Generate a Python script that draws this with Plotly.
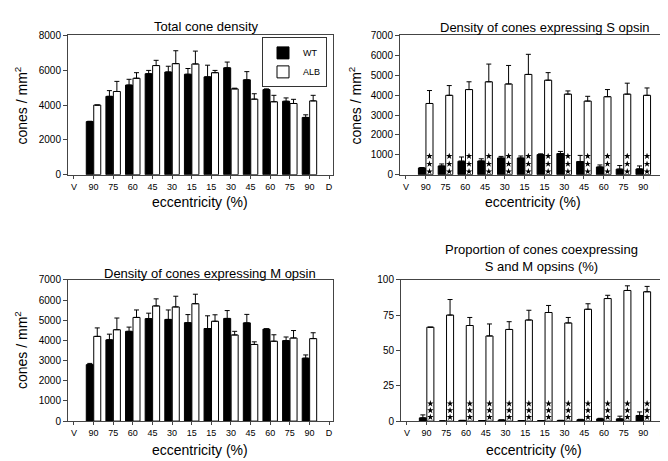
import plotly.graph_objects as go

# ---------------- data ----------------
tick_labels = ["V", "90", "75", "60", "45", "30", "15", "15", "30", "45", "60", "75", "90", "D"]
bar_pos = list(range(1, 13))  # positions of the 12 eccentricity bins (V and D are empty)

total_wt = [3050, 4500, 5150, 5800, 5900, 5770, 5620, 6140, 5450, 4890, 4220, 3290]
total_wt_err = [20, 330, 330, 190, 330, 330, 670, 330, 470, 40, 190, 150]
total_alb = [4000, 4780, 5540, 6270, 6380, 6360, 5860, 4930, 4340, 4190, 4090, 4240]
total_alb_err = [0, 580, 320, 300, 740, 740, 130, 40, 310, 370, 240, 320]

s_wt = [340, 440, 680, 690, 840, 840, 1010, 1060, 660, 390, 280, 290]
s_wt_err = [20, 100, 210, 110, 80, 100, 40, 110, 310, 100, 180, 150]
s_alb = [3580, 3990, 4280, 4670, 4560, 5040, 4750, 4050, 3700, 3920, 4050, 3990]
s_alb_err = [650, 490, 390, 890, 930, 1010, 380, 160, 240, 360, 550, 370]

m_wt = [2800, 4030, 4450, 5080, 5040, 4880, 4590, 5090, 4870, 4560, 3990, 3120]
m_wt_err = [60, 280, 210, 270, 470, 400, 630, 390, 420, 20, 180, 160]
m_alb = [4200, 4530, 5140, 5710, 5660, 5820, 4950, 4270, 3800, 3960, 4120, 4090]
m_alb_err = [420, 580, 370, 350, 530, 470, 320, 180, 130, 320, 370, 290]

co_wt = [2.3, 0.1, 0.5, 0.4, 0.8, 0.3, 0.4, 0.5, 1.0, 1.6, 1.6, 4.0]
co_wt_err = [2.1, 0.0, 0.0, 0.0, 0.0, 0.0, 0.0, 0.0, 0.3, 0.4, 1.9, 2.5]
co_alb = [66.5, 75.1, 67.7, 60.3, 64.9, 71.6, 76.9, 69.5, 79.2, 86.8, 92.5, 91.6]
co_alb_err = [0.0, 11.0, 5.7, 8.5, 5.5, 6.9, 5.0, 3.9, 3.9, 2.3, 3.3, 3.8]

s_star_levels = [160, 540, 930]
co_star_levels = [2.8, 7.6, 12.4]

panel_titles = ["Total cone density", "Density of cones expressing S opsin",
                "Density of cones expressing M opsin",
                "Proportion of cones coexpressing<br>S and M opsins (%)"]

# ---------------- layout helpers ----------------
W, H = 668, 461
FONT = "Liberation Sans, Arial, sans-serif"


def px_x(p):
    return p / W


def px_y(p):
    return 1 - p / H


panels = {
    1: dict(x=(60, 325), y=(22, 165), ymax=8000, dtick=2000),
    2: dict(x=(392, 659), y=(22, 165), ymax=7000, dtick=1000),
    3: dict(x=(60, 325), y=(273, 418), ymax=7000, dtick=1000),
    4: dict(x=(393, 659), y=(273, 418), ymax=100, dtick=25),
}

fig = go.Figure()

series = {
    1: (total_wt, total_wt_err, total_alb, total_alb_err),
    2: (s_wt, s_wt_err, s_alb, s_alb_err),
    3: (m_wt, m_wt_err, m_alb, m_alb_err),
    4: (co_wt, co_wt_err, co_alb, co_alb_err),
}

for k, (wt, wte, alb, albe) in series.items():
    xa = "x" if k == 1 else f"x{k}"
    ya = "y" if k == 1 else f"y{k}"
    fig.add_trace(go.Bar(
        x=bar_pos, y=wt, name="WT", xaxis=xa, yaxis=ya, offsetgroup="wt",
        marker=dict(color="black", line=dict(color="black", width=1)),
        error_y=dict(type="data", symmetric=False, array=wte, arrayminus=[0] * len(wte),
                     color="black", thickness=1, width=2.5),
        showlegend=(k == 1), legendgroup="wt"))
    fig.add_trace(go.Bar(
        x=bar_pos, y=alb, name="ALB", xaxis=xa, yaxis=ya, offsetgroup="alb",
        marker=dict(color="white", line=dict(color="black", width=1)),
        error_y=dict(type="data", symmetric=False, array=albe, arrayminus=[0] * len(albe),
                     color="black", thickness=1, width=2.5),
        showlegend=(k == 1), legendgroup="alb"))

# stars inside ALB bars (panels 2 and 4)
bw = 0.76
alb_offset = bw / 4
for k, levels in ((2, s_star_levels), (4, co_star_levels)):
    xs, ys = [], []
    for p in bar_pos:
        for lv in levels:
            xs.append(p + alb_offset)
            ys.append(lv)
    fig.add_trace(go.Scatter(
        x=xs, y=ys, mode="markers", xaxis=f"x{k}", yaxis=f"y{k}",
        marker=dict(symbol="star", size=5, color="black", line=dict(width=0)),
        showlegend=False, hoverinfo="skip"))

axis_common = dict(showline=True, linecolor="#444", linewidth=1, mirror=True,
                   showgrid=False, zeroline=False, ticks="outside", ticklen=3,
                   tickcolor="#444", tickfont=dict(family=FONT, size=10, color="black"))

layout = dict(width=W, height=H, margin=dict(l=0, r=0, t=0, b=0),
              plot_bgcolor="white", paper_bgcolor="white",
              barmode="group", bargap=0.24, bargroupgap=0.06,
              font=dict(family=FONT, color="black"))

for k, p in panels.items():
    xs = "xaxis" if k == 1 else f"xaxis{k}"
    ys = "yaxis" if k == 1 else f"yaxis{k}"
    anchor_x = "y" if k == 1 else f"y{k}"
    anchor_y = "x" if k == 1 else f"x{k}"
    layout[xs] = dict(axis_common, domain=[px_x(p["x"][0]), px_x(p["x"][1])],
                      anchor=anchor_x, range=[-0.3, 13.2], tickmode="array",
                      tickvals=list(range(len(tick_labels))), ticktext=tick_labels,
                      tickfont=dict(family=FONT, size=9, color="black"))
    layout[ys] = dict(axis_common, domain=[px_y(p["y"][1]), px_y(p["y"][0])],
                      anchor=anchor_y, range=[0, p["ymax"]], tick0=0, dtick=p["dtick"],
                      ticklen=4)

fig.update_layout(**layout)

fig.update_layout(legend=dict(
    x=px_x(319), y=px_y(24), xanchor="right", yanchor="top",
    bordercolor="#333", borderwidth=1, bgcolor="white",
    font=dict(family=FONT, size=9), tracegroupgap=0, itemwidth=30,
    traceorder="normal"))

annotations = []
title_pos = [(198, 13), (537, 14), (202, 266), (533, 251)]
for t, (tx, ty) in zip(panel_titles, title_pos):
    annotations.append(dict(text=t, x=px_x(tx), y=px_y(ty), xref="paper", yref="paper",
                            showarrow=False, xanchor="center", yanchor="middle",
                            font=dict(family=FONT, size=13, color="black")))
for (tx, ty) in [(192, 193), (525, 193), (192, 448), (526, 448)]:
    annotations.append(dict(text="eccentricity (%)", x=px_x(tx), y=px_y(ty),
                            xref="paper", yref="paper", showarrow=False,
                            xanchor="center", yanchor="middle",
                            font=dict(family=FONT, size=14, color="black")))
for (tx, ty) in [(13, 94), (347, 94), (13, 345)]:
    annotations.append(dict(text="cones / mm<sup>2</sup>", x=px_x(tx), y=px_y(ty),
                            xref="paper", yref="paper", showarrow=False, textangle=-90,
                            xanchor="center", yanchor="middle",
                            font=dict(family=FONT, size=14, color="black")))
fig.update_layout(annotations=annotations)

fig.write_html("out.html")
